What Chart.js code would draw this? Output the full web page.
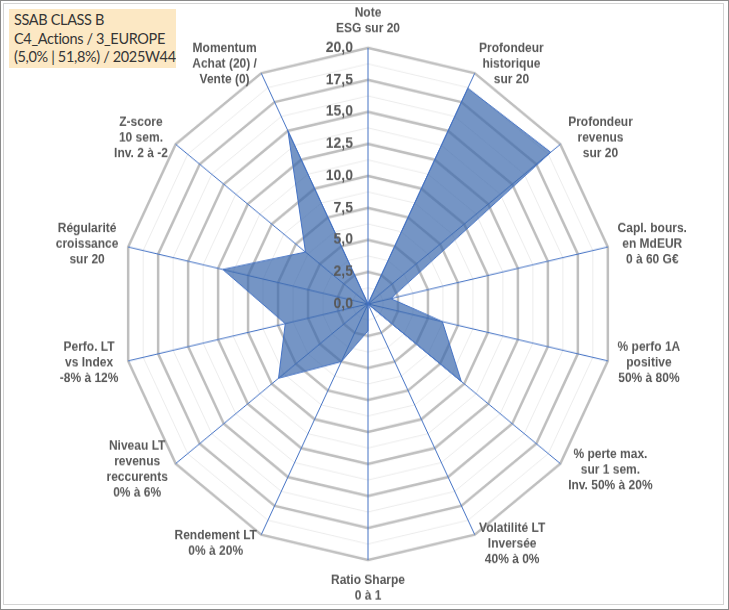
<!DOCTYPE html>
<html lang="fr">
<head>
<meta charset="utf-8">
<title>SSAB CLASS B - radar</title>
<script src="https://cdn.jsdelivr.net/npm/chart.js@4.4.1/dist/chart.umd.min.js"></script>
<style>
    html, body { margin: 0; padding: 0; background: #ffffff; }
    #frame {
        position: absolute; left: 0; top: 0; width: 729px; height: 610px;
        box-sizing: border-box; border: 1px solid #8a8a8a; overflow: hidden;
    }
    #inner {
        position: absolute; left: 2px; top: 2px; width: 721px; height: 602px;
        box-sizing: border-box; border: 1px solid #d4d4d4;
    }
    #wrap {
        position: absolute; left: 0; top: 0; width: 729px; height: 586px;
        transform: scaleY(1.041); transform-origin: 0 0;
    }
    #titleBox {
        position: absolute; left: 8px; top: 8px; width: 167px; height: 59px;
        background: #fce8c4; z-index: 2;
        font-family: Lato, "Open Sans", sans-serif; font-size: 14.5px; color: #363636;
        letter-spacing: -0.35px;
        line-height: 18.5px; padding: 2px 0 0 5px; box-sizing: border-box; white-space: nowrap;
    }
</style>
</head>
<body>
<div id="frame">
    <div id="inner"></div>
    <div id="wrap"><canvas id="radarChart"></canvas></div>
    <div id="titleBox">SSAB CLASS B<br>C4_Actions / 3_EUROPE<br>(5,0% | 51,8%) / 2025W44</div>
</div>
<script>
        // axes (clockwise from the top)
        const axisLabels = [
            ['Note', 'ESG sur 20'],
            ['Profondeur', 'historique', 'sur 20'],
            ['Profondeur', 'revenus', 'sur 20'],
            ['Capl. bours.', 'en MdEUR', '0 à 60 G€'],
            ['% perfo 1A', 'positive', '50% à 80%'],
            ['% perte max.', 'sur 1 sem.', 'Inv. 50% à 20%'],
            ['Volatilité LT', 'Inversée', '40% à 0%'],
            ['Ratio Sharpe', '0 à 1'],
            ['Rendement LT', '0% à 20%'],
            ['Niveau LT', 'revenus', 'reccurents', '0% à 6%'],
            ['Perfo. LT', 'vs Index', '-8% à 12%'],
            ['Régularité', 'croissance', 'sur 20'],
            ['Z-score', '10 sem.', 'Inv. 2 à -2'],
            ['Momentum', 'Achat (20) /', 'Vente (0)']
        ];

        // scores sur 20
        const scores = [0, 18.7, 19.0, 1.9, 6.2, 9.7, 0, 2.1, 5.0, 9.3, 6.9, 12.1, 6.5, 15.0];

        const tickLabels = ['0,0', '2,5', '5,0', '7,5', '10,0', '12,5', '15,0', '17,5', '20,0'];
        const majorStep = 2.5;
        const minorStep = 1.25;

        const textGray = '#595959';
        const lineH = 15;

        function isMajor(value) {
            const k = Math.round(value / majorStep);
            return Math.abs(value - k * majorStep) < 1e-6;
        }

        // tick labels left of the top axis + point labels, drawn over the fill
        const radarText = {
            id: 'radarText',
            afterDatasetsDraw(chart) {
                const r = chart.scales.r;
                const ctx = chart.ctx;
                ctx.save();
                ctx.fillStyle = textGray;
                ctx.textBaseline = 'middle';

                ctx.font = 'bold 14px "Liberation Sans", Arial, sans-serif';
                ctx.textAlign = 'right';
                r.ticks.forEach(t => {
                    if (!isMajor(t.value)) return;
                    const y = r.yCenter - r.getDistanceFromCenterForValue(t.value);
                    ctx.fillText(tickLabels[Math.round(t.value / majorStep)], r.xCenter - 15, y);
                });

                ctx.font = 'bold 12px "Liberation Sans", Arial, sans-serif';
                ctx.textAlign = 'center';
                const n = axisLabels.length;
                axisLabels.forEach((lines, i) => {
                    const deg = i * 360 / n;
                    const w = Math.max(...lines.map(s => ctx.measureText(s).width));
                    const h = lines.length * lineH;
                    let x, y0, p;
                    if (deg === 0) {
                        p = r.getPointPosition(i, r.drawingArea + 11);
                        x = p.x; y0 = p.y - h;
                    } else if (deg === 180) {
                        p = r.getPointPosition(i, r.drawingArea + 12);
                        x = p.x; y0 = p.y;
                    } else {
                        p = r.getPointPosition(i, r.drawingArea + 10);
                        x = deg < 180 ? p.x + w / 2 : p.x - w / 2;
                        y0 = p.y - h / 2;
                    }
                    lines.forEach((s, j) => ctx.fillText(s, x, y0 + lineH * (j + 0.5)));
                });
                ctx.restore();
            }
        };

        const radarChart = new Chart(document.getElementById('radarChart'), {
            type: 'radar',
            data: {
                labels: axisLabels,
                datasets: [{
                    label: 'SSAB CLASS B',
                    data: scores,
                    backgroundColor: 'rgba(58, 104, 172, 0.70)',
                    borderColor: '#4472c4',
                    borderWidth: 1,
                    pointRadius: 0,
                    pointHoverRadius: 0,
                    fill: true
                }]
            },
            options: {
                responsive: true,
                maintainAspectRatio: false,
                animation: false,
                layout: {
                    padding: { top: 45, bottom: 49, left: 100, right: 94 }
                },
                plugins: {
                    legend: { display: false },
                    tooltip: { enabled: false }
                },
                scales: {
                    r: {
                        min: 0,
                        max: 20,
                        ticks: { stepSize: minorStep, display: false },
                        pointLabels: { display: false },
                        grid: {
                            circular: false,
                            color: c => isMajor(c.tick.value) ? '#bfbfbf' : '#ececec',
                            lineWidth: c => isMajor(c.tick.value) ? 2.5 : 1
                        },
                        angleLines: { color: '#4472c4', lineWidth: 1 }
                    }
                }
            },
            plugins: [radarText]
        });
</script>
</body>
</html>
